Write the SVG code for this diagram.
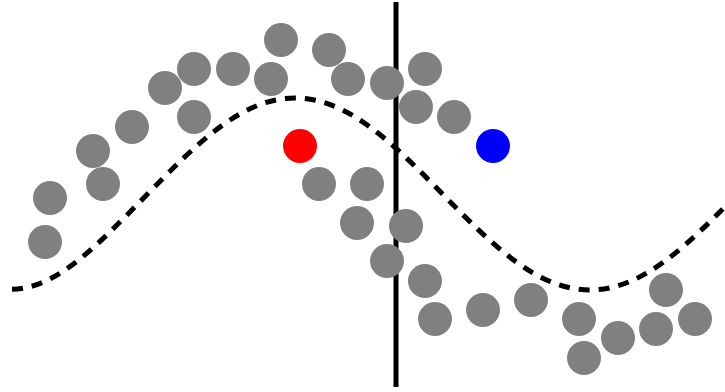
<svg xmlns="http://www.w3.org/2000/svg" width="725" height="392" viewBox="0 0 725 392">
  <style>
    .pt { fill: #808080; }
    .red { fill: #ff0000; }
    .blue { fill: #0000ff; }
    .wave { fill: none; stroke: #000; stroke-width: 5; stroke-dasharray: 11 9; }
    .divider { stroke: #000; stroke-width: 5; }
  </style>
  <rect width="725" height="392" fill="#ffffff"/>

  <g id="connectors">
    <!-- decision boundary: dashed sine wave -->
    <path class="wave" d="M12,289.2 C57,288.8 98.2,244.4 147.5,194 C196.8,143.6 241.9,98 295,98 C348.1,98 393.2,143.6 442.5,194 C491.8,244.4 536.9,290 590,290 C643.1,290 688.2,244.4 737.5,194"/>
    <!-- straight boundary -->
    <line class="divider" x1="396" y1="2" x2="396" y2="387"/>
  </g>

  <g id="samples">
    <circle class="pt" cx="281" cy="40" r="17"/>
    <circle class="pt" cx="329" cy="50" r="17"/>
    <circle class="pt" cx="194" cy="69" r="17"/>
    <circle class="pt" cx="233" cy="69" r="17"/>
    <circle class="pt" cx="271" cy="79" r="17"/>
    <circle class="pt" cx="348" cy="79" r="17"/>
    <circle class="pt" cx="387" cy="83" r="17"/>
    <circle class="pt" cx="425" cy="69" r="17"/>
    <circle class="pt" cx="165" cy="88" r="17"/>
    <circle class="pt" cx="416" cy="107" r="17"/>
    <circle class="pt" cx="454" cy="117" r="17"/>
    <circle class="pt" cx="194" cy="117" r="17"/>
    <circle class="pt" cx="132" cy="127" r="17"/>
    <circle class="pt" cx="93" cy="151" r="17"/>
    <circle class="pt" cx="103" cy="184" r="17"/>
    <circle class="pt" cx="50" cy="198" r="17"/>
    <circle class="pt" cx="45" cy="242" r="17"/>
    <circle class="pt" cx="319" cy="184" r="17"/>
    <circle class="pt" cx="367" cy="184" r="17"/>
    <circle class="pt" cx="357" cy="223" r="17"/>
    <circle class="pt" cx="406" cy="226" r="17"/>
    <circle class="pt" cx="387" cy="261" r="17"/>
    <circle class="pt" cx="425" cy="281" r="17"/>
    <circle class="pt" cx="435" cy="319" r="17"/>
    <circle class="pt" cx="483" cy="310" r="17"/>
    <circle class="pt" cx="531" cy="300" r="17"/>
    <circle class="pt" cx="579" cy="319" r="17"/>
    <circle class="pt" cx="584" cy="358" r="17"/>
    <circle class="pt" cx="618" cy="338" r="17"/>
    <circle class="pt" cx="656" cy="329" r="17"/>
    <circle class="pt" cx="666" cy="290" r="17"/>
    <circle class="pt" cx="695" cy="319" r="17"/>
  </g>

  <g id="query-red">
    <circle class="red" cx="300" cy="146" r="17"/>
  </g>
  <g id="query-blue">
    <circle class="blue" cx="493" cy="146" r="17"/>
  </g>
</svg>
